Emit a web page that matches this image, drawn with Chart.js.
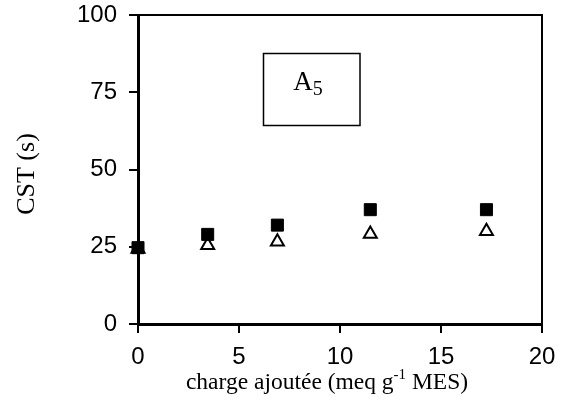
<!DOCTYPE html>
<html>
<head>
<meta charset="utf-8">
<script src="https://cdn.jsdelivr.net/npm/chart.js@4"></script>
<style>
  html, body { margin: 0; padding: 0; background: #fff; }
  #wrap { width: 566px; height: 416px; }
</style>
</head>
<body>
<div id="wrap"><canvas id="cst"></canvas></div>
<script>
// valeurs
const charge = [0, 3.45, 6.9, 11.5, 17.25];
const cstCarres = [24.7, 29, 32, 37, 37];
const cstTriangles = [24.3, 25.5, 26.6, 29.1, 30];
const yTicks = [0, 25, 50, 75, 100];
const xTicks = [0, 5, 10, 15, 20];
const etiquette = "A";
const indice = "5";

const serif = "'Liberation Serif', 'Times New Roman', serif";
const sans = "'Liberation Sans', Arial, sans-serif";

const toPts = (ys) => charge.map((x, i) => ({ x: x, y: ys[i] }));

// cadre haut/droite, encadré A5 et titres des axes
const decor = {
  id: "decor",
  afterDraw(chart) {
    const ctx = chart.ctx;
    const a = chart.chartArea;
    ctx.save();
    ctx.strokeStyle = "#000";
    ctx.lineWidth = 2;
    ctx.beginPath();
    ctx.moveTo(a.left, a.top);
    ctx.lineTo(a.right, a.top);
    ctx.lineTo(a.right, a.bottom);
    ctx.stroke();

    // encadré
    ctx.lineWidth = 1.5;
    ctx.strokeRect(263.5, 53.5, 96.5, 72);
    ctx.fillStyle = "#000";
    ctx.textBaseline = "alphabetic";
    ctx.textAlign = "left";
    ctx.font = "27px " + serif;
    const wA = ctx.measureText(etiquette).width;
    ctx.font = "20px " + serif;
    const w5 = ctx.measureText(indice).width;
    let x0 = 308 - (wA + w5) / 2;
    ctx.font = "27px " + serif;
    ctx.fillText(etiquette, x0, 89.5);
    ctx.font = "20px " + serif;
    ctx.fillText(indice, x0 + wA, 94.5);

    // titre axe x avec exposant
    const parts = [
      { t: "charge ajoutée (meq g", f: "23.5px " + serif, dy: 0 },
      { t: "-1", f: "15px " + serif, dy: -10 },
      { t: " MES)", f: "23.5px " + serif, dy: 0 },
    ];
    let total = 0;
    parts.forEach((p) => { ctx.font = p.f; p.w = ctx.measureText(p.t).width; total += p.w; });
    let x = 327 - total / 2;
    parts.forEach((p) => {
      ctx.font = p.f;
      ctx.fillText(p.t, x, 389 + p.dy);
      x += p.w;
    });

    // titre axe y
    ctx.translate(27, 174);
    ctx.rotate(-Math.PI / 2);
    ctx.textAlign = "center";
    ctx.textBaseline = "middle";
    ctx.font = "26px " + serif;
    ctx.fillText("CST (s)", 0, 0);
    ctx.restore();
  },
};

new Chart(document.getElementById("cst"), {
  type: "scatter",
  data: {
    datasets: [
      {
        label: "carrés",
        data: toPts(cstCarres),
        pointStyle: "rect",
        pointRadius: 8.5,
        backgroundColor: "#000",
        borderColor: "#000",
        borderWidth: 1,
        clip: false,
      },
      {
        label: "triangles",
        data: toPts(cstTriangles),
        pointStyle: "triangle",
        pointRadius: 7.5,
        backgroundColor: "#fff",
        borderColor: "#000",
        borderWidth: 2,
        clip: false,
      },
    ],
  },
  options: {
    responsive: true,
    maintainAspectRatio: false,
    animation: false,
    events: [],
    layout: { padding: { top: 15, right: 24, left: 0, bottom: 0 } },
    plugins: { legend: { display: false }, tooltip: { enabled: false } },
    scales: {
      x: {
        type: "linear",
        min: 0,
        max: 20,
        afterBuildTicks: (s) => { s.ticks = xTicks.map((v) => ({ value: v })); },
        afterFit: (s) => { s.height = 92; s.paddingLeft = 0; s.paddingRight = 0; },
        border: { display: true, color: "#000", width: 3 },
        grid: { drawOnChartArea: false, color: "#000", lineWidth: 2, tickLength: 9 },
        ticks: { color: "#000", font: { family: sans, size: 24 }, padding: 10, maxRotation: 0 },
      },
      y: {
        type: "linear",
        min: 0,
        max: 100,
        afterBuildTicks: (s) => { s.ticks = yTicks.map((v) => ({ value: v })); },
        afterFit: (s) => { s.width = 138; s.paddingTop = 0; s.paddingBottom = 0; },
        border: { display: true, color: "#000", width: 3 },
        grid: { drawOnChartArea: false, color: "#000", lineWidth: 2, tickLength: 9 },
        ticks: { color: "#000", font: { family: sans, size: 24 }, padding: 12 },
      },
    },
  },
  plugins: [decor],
});
</script>
</body>
</html>
